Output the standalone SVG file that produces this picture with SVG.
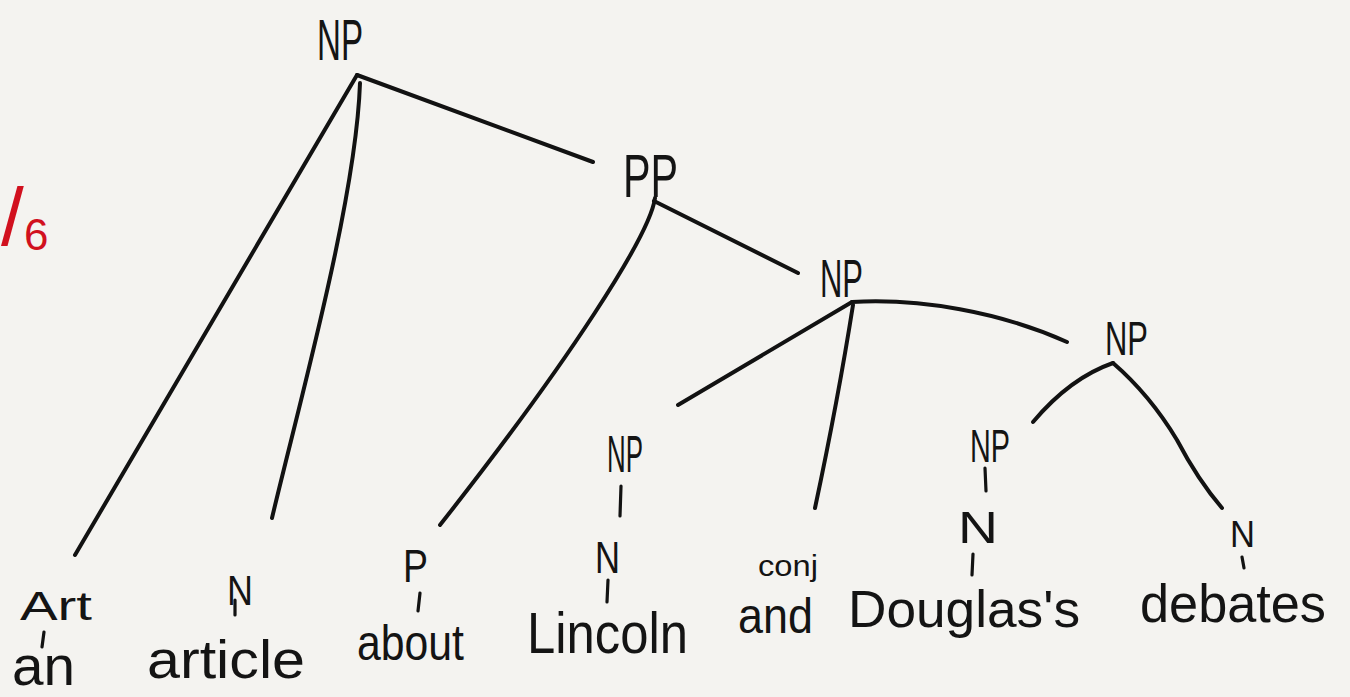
<svg xmlns="http://www.w3.org/2000/svg" width="1350" height="697" viewBox="0 0 1350 697">
<style>
.lbl{font-family:"Liberation Sans",Arial,sans-serif;fill:#141414;}
.wd{font-family:"Liberation Sans",Arial,sans-serif;fill:#141414;}
.edge{fill:none;stroke:#121212;stroke-width:4;stroke-linecap:round;stroke-linejoin:round;}
.tick{fill:none;stroke:#121212;stroke-width:3.2;stroke-linecap:round;}
.grade{font-family:"Liberation Sans",Arial,sans-serif;fill:#d1101e;}
</style>
<rect x="0" y="0" width="1350" height="697" fill="#f4f3f0"/>
<text class="grade" x="1" y="245"><tspan font-size="82">/</tspan><tspan font-size="44" x="24" y="250">6</tspan></text>

<g id="connectors">
<path class="edge" d="M357,75 L75,555"/>
<path class="edge" d="M360,83 C356,200 300,400 272,518"/>
<path class="edge" d="M357,75 L593,162"/>
<path class="edge" d="M655,198 C650,235 570,360 440,525"/>
<path class="edge" d="M654,201 L798,273"/>
<path class="edge" d="M852,302 L678,405"/>
<path class="edge" d="M853,305 Q838,400 815,508"/>
<path class="edge" d="M852,302 C920,298 1000,312 1067,342"/>
<path class="edge" d="M1113,363 Q1070,378 1033,422"/>
<path class="edge" d="M1113,363 Q1150,395 1177,440 Q1198,480 1222,508"/>
<path class="tick" d="M44,632 L42,647"/>
<path class="tick" d="M235,600 L235,615"/>
<path class="tick" d="M420,593 L418,611"/>
<path class="tick" d="M621,486 L620,516"/>
<path class="tick" d="M608,580 L607,602"/>
<path class="tick" d="M985,468 L986,491"/>
<path class="tick" d="M973,554 L972,575"/>
<path class="tick" d="M1242,557 L1244,568"/>
</g>

<g id="np1"><text class="lbl" x="317" y="60" font-size="58" textLength="46" lengthAdjust="spacingAndGlyphs">NP</text></g>
<g id="pp"><text class="lbl" x="623" y="197" font-size="62" textLength="55" lengthAdjust="spacingAndGlyphs">PP</text></g>
<g id="np2"><text class="lbl" x="820" y="297" font-size="54" textLength="43" lengthAdjust="spacingAndGlyphs">NP</text></g>
<g id="np3"><text class="lbl" x="1105" y="355" font-size="48" textLength="43" lengthAdjust="spacingAndGlyphs">NP</text></g>
<g id="np-lincoln"><text class="lbl" x="607" y="472" font-size="52" textLength="36" lengthAdjust="spacingAndGlyphs">NP</text></g>
<g id="np-douglas"><text class="lbl" x="970" y="462" font-size="46" textLength="40" lengthAdjust="spacingAndGlyphs">NP</text></g>

<g id="art"><text class="lbl" x="20" y="620" font-size="40" textLength="72" lengthAdjust="spacingAndGlyphs">Art</text><text class="wd" x="12" y="685" font-size="56" textLength="63" lengthAdjust="spacingAndGlyphs">an</text></g>
<g id="n-article"><text class="lbl" x="227" y="605" font-size="42" textLength="26" lengthAdjust="spacingAndGlyphs">N</text><text class="wd" x="147" y="678" font-size="54" textLength="158" lengthAdjust="spacingAndGlyphs">article</text></g>
<g id="p-about"><text class="lbl" x="403" y="582" font-size="46" textLength="25" lengthAdjust="spacingAndGlyphs">P</text><text class="wd" x="357" y="660" font-size="50" textLength="107" lengthAdjust="spacingAndGlyphs">about</text></g>
<g id="n-lincoln"><text class="lbl" x="595" y="573" font-size="45" textLength="25" lengthAdjust="spacingAndGlyphs">N</text><text class="wd" x="527" y="653" font-size="58" textLength="161" lengthAdjust="spacingAndGlyphs">Lincoln</text></g>
<g id="conj"><text class="lbl" x="758" y="576" font-size="30" textLength="60" lengthAdjust="spacingAndGlyphs">conj</text><text class="wd" x="738" y="633" font-size="50" textLength="75" lengthAdjust="spacingAndGlyphs">and</text></g>
<g id="n-douglas"><text class="lbl" x="958" y="543" font-size="45" textLength="40" lengthAdjust="spacingAndGlyphs">N</text><text class="wd" x="848" y="627" font-size="52" textLength="232" lengthAdjust="spacingAndGlyphs">Douglas's</text></g>
<g id="n-debates"><text class="lbl" x="1230" y="547" font-size="37" textLength="25" lengthAdjust="spacingAndGlyphs">N</text><text class="wd" x="1140" y="622" font-size="54" textLength="186" lengthAdjust="spacingAndGlyphs">debates</text></g>
</svg>
